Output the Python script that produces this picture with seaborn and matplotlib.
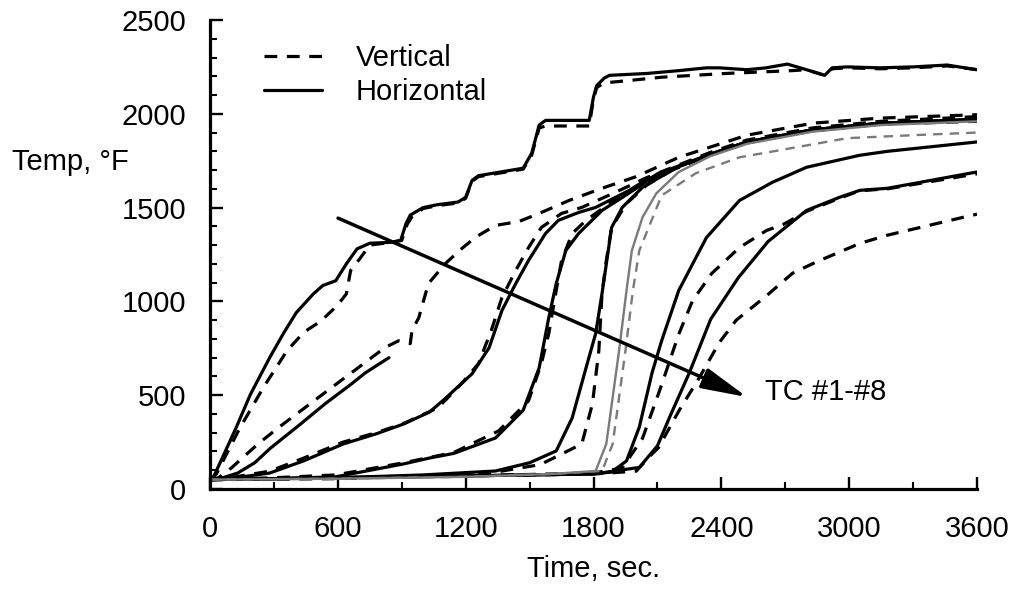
import matplotlib
matplotlib.use("Agg")
import matplotlib.pyplot as plt
from matplotlib.lines import Line2D
from matplotlib.ticker import MultipleLocator
import numpy as np
import pandas as pd
import seaborn as sns

# thermocouple traces, time (s) / temperature (F)
t1h = [0, 15, 120, 190, 280, 345, 405, 485, 530, 590, 640, 690, 750, 850, 895, 920, 940, 1000, 1065, 1165,
       1200, 1230, 1260, 1470, 1510, 1545, 1575, 1780, 1800, 1815, 1850, 1875, 2050, 2200, 2330, 2390, 2520,
       2610, 2710, 2800, 2885, 2920, 2990, 3145, 3300, 3460, 3570, 3600]
T1h = [50, 60, 320, 505, 700, 830, 940, 1040, 1085, 1110, 1200, 1280, 1310, 1315, 1325, 1415, 1460, 1500, 1515, 1530,
       1555, 1645, 1670, 1710, 1790, 1940, 1965, 1965, 2090, 2150, 2190, 2205, 2215, 2230, 2245, 2245, 2235,
       2245, 2265, 2235, 2205, 2245, 2250, 2245, 2250, 2260, 2240, 2235]
t1v = [0, 30, 140, 250, 360, 440, 520, 595, 640, 660, 685, 750, 850, 900, 925, 950, 1000, 1065, 1165, 1200,
       1230, 1260, 1470, 1510, 1545, 1575, 1780, 1800, 1815, 1850, 1900, 2120, 2420, 2730, 2800, 2885, 2920,
       2990, 3145, 3300, 3460, 3570, 3600]
T1v = [50, 80, 325, 540, 735, 835, 895, 975, 1040, 1165, 1200, 1300, 1315, 1325, 1410, 1455, 1495, 1510, 1525, 1550,
       1640, 1665, 1705, 1780, 1925, 1935, 1935, 2080, 2140, 2165, 2170, 2195, 2215, 2230, 2235, 2205, 2240,
       2245, 2240, 2245, 2255, 2240, 2235]

t2h = [0, 60, 130, 210, 285, 415, 540, 665, 730, 840]
T2h = [50, 60, 85, 140, 219, 337, 454, 561, 620, 700]
t2v = [0, 40, 100, 225, 320, 445, 570, 695, 820, 885, 940, 948, 980, 1025, 1105, 1180, 1245, 1340, 1450, 1545,
       1685, 1840, 2000, 2200, 2520, 2830, 3145, 3600]
T2v = [50, 60, 112, 240, 326, 433, 540, 646, 753, 790, 775, 845, 913, 1095, 1202, 1280, 1341, 1405, 1426, 1469,
       1538, 1603, 1665, 1768, 1886, 1950, 1977, 1995]

t3h = [0, 120, 280, 440, 625, 780, 910, 1030, 1100, 1230, 1310, 1370, 1435, 1495, 1575, 1635, 1730, 1810, 1965,
       2050, 2350, 2520, 2830, 3150, 3600]
T3h = [50, 60, 85, 150, 240, 294, 347, 410, 478, 614, 753, 951, 1095, 1218, 1362, 1432, 1474, 1501, 1590,
       1650, 1785, 1850, 1915, 1950, 1970]
t3v = [0, 120, 280, 440, 625, 780, 910, 1070, 1180, 1260, 1320, 1370, 1435, 1495, 1555, 1650, 1745, 1900, 2050,
       2350, 2520, 2830, 3150, 3600]
T3v = [50, 65, 95, 165, 250, 300, 350, 433, 561, 668, 844, 1020, 1165, 1287, 1394, 1469, 1501, 1580, 1660,
       1795, 1860, 1925, 1960, 1985]

t4h = [0, 300, 590, 910, 1030, 1145, 1340, 1470, 1545, 1590, 1625, 1670, 1730, 1840, 1965, 2100, 2350, 2520,
       2830, 3150, 3600]
T4h = [50, 55, 65, 134, 165, 190, 272, 420, 646, 913, 1095, 1271, 1362, 1485, 1576, 1680, 1785, 1850,
       1915, 1950, 1970]
t4v = [0, 300, 590, 910, 1145, 1355, 1495, 1555, 1590, 1625, 1650, 1700, 1765, 1875, 2100, 2350, 2520, 2830,
       3150, 3600]
T4v = [50, 60, 75, 140, 195, 310, 470, 668, 828, 1058, 1218, 1362, 1432, 1522, 1670, 1780, 1845, 1910,
       1945, 1965]

t5h = [0, 600, 1000, 1340, 1500, 1625, 1700, 1765, 1810, 1840, 1885, 1935, 2030, 2200, 2350, 2520, 2830, 3150, 3600]
T5h = [50, 60, 75, 96, 140, 203, 379, 646, 828, 1042, 1394, 1501, 1608, 1720, 1785, 1850, 1915, 1950, 1970]
t5v = [0, 600, 1000, 1340, 1550, 1745, 1795, 1825, 1840, 1860, 1885, 1955, 2050, 2200, 2350, 2520, 2830, 3150, 3600]
T5v = [50, 55, 70, 90, 130, 240, 454, 737, 1042, 1218, 1394, 1522, 1620, 1720, 1780, 1845, 1910, 1945, 1960]

t6h = [0, 600, 1200, 1600, 1810, 1860, 1920, 1955, 1980, 2030, 2095, 2200, 2350, 2520, 2830, 3150, 3600]
T6h = [50, 55, 65, 80, 96, 240, 737, 1058, 1271, 1448, 1576, 1690, 1775, 1840, 1905, 1940, 1960]
t6v = [0, 600, 1200, 1600, 1840, 1890, 1950, 1985, 2015, 2120, 2280, 2485, 2675, 2990, 3300, 3600]
T6v = [50, 55, 65, 80, 96, 240, 737, 1058, 1271, 1565, 1683, 1768, 1806, 1870, 1886, 1900]

t7h = [0, 600, 1200, 1790, 1885, 1955, 2015, 2075, 2120, 2200, 2330, 2485, 2640, 2800, 3050, 3180, 3600]
T7h = [50, 60, 70, 80, 90, 150, 330, 620, 791, 1058, 1340, 1538, 1635, 1715, 1779, 1800, 1850]
t7v = [0, 600, 1200, 1800, 1935, 2030, 2115, 2200, 2265, 2355, 2485, 2612, 2690, 2800, 2955, 3050, 3180, 3600]
T7v = [50, 60, 70, 85, 112, 270, 540, 825, 1004, 1149, 1287, 1378, 1410, 1480, 1550, 1590, 1600, 1680]

t8h = [0, 600, 1200, 1800, 2015, 2100, 2160, 2250, 2350, 2480, 2620, 2800, 2955, 3050, 3180, 3600]
T8h = [50, 60, 70, 80, 115, 230, 390, 620, 905, 1127, 1320, 1485, 1555, 1592, 1603, 1690]
t8v = [0, 600, 1200, 1800, 2000, 2075, 2105, 2200, 2300, 2390, 2470, 2612, 2734, 2845, 3050, 3176, 3534, 3600]
T8v = [50, 60, 70, 80, 95, 187, 220, 415, 600, 780, 900, 1030, 1150, 1210, 1309, 1352, 1448, 1465]

x_ticks = [0, 600, 1200, 1800, 2400, 3000, 3600]
y_ticks = [0, 500, 1000, 1500, 2000, 2500]

curves = {
    (1, "Horizontal"): (t1h, T1h), (1, "Vertical"): (t1v, T1v),
    (2, "Horizontal"): (t2h, T2h), (2, "Vertical"): (t2v, T2v),
    (3, "Horizontal"): (t3h, T3h), (3, "Vertical"): (t3v, T3v),
    (4, "Horizontal"): (t4h, T4h), (4, "Vertical"): (t4v, T4v),
    (5, "Horizontal"): (t5h, T5h), (5, "Vertical"): (t5v, T5v),
    (6, "Horizontal"): (t6h, T6h), (6, "Vertical"): (t6v, T6v),
    (7, "Horizontal"): (t7h, T7h), (7, "Vertical"): (t7v, T7v),
    (8, "Horizontal"): (t8h, T8h), (8, "Vertical"): (t8v, T8v),
}
rows = []
for (tc, orient), (tt, TT) in curves.items():
    for a, b in zip(tt, TT):
        rows.append({"tc": tc, "orient": orient, "time": a, "temp": b})
df = pd.DataFrame(rows)

sns.set_theme(style="ticks")
plt.rcParams["font.family"] = ["Liberation Sans", "DejaVu Sans"]
plt.rcParams["text.color"] = "black"
plt.rcParams["axes.labelcolor"] = "black"
FS = 21

fig = plt.figure(figsize=(10.17, 5.90), dpi=100)
ax = fig.add_axes([210 / 1017, 1 - 489 / 590, 767 / 1017, 469 / 590])

dash_map = {"Vertical": (4, 3), "Horizontal": ""}
black = df[df["tc"] != 6]
grey = df[df["tc"] == 6]
sns.lineplot(data=black, x="time", y="temp", units="tc", style="orient", dashes=dash_map,
             estimator=None, sort=False, color="black", lw=2.3, legend=False, ax=ax)
sns.lineplot(data=grey, x="time", y="temp", units="tc", style="orient", dashes=dash_map,
             estimator=None, sort=False, color="#7a7a7a", lw=1.7, legend=False, ax=ax)

ax.set_xlim(0, 3600)
ax.set_ylim(0, 2500)
ax.set_xticks(x_ticks)
ax.set_yticks(y_ticks)
ax.xaxis.set_minor_locator(MultipleLocator(300))
ax.yaxis.set_minor_locator(MultipleLocator(100))
ax.tick_params(which="major", direction="in", length=9, width=1.7, labelsize=FS,
               color="black", labelcolor="black")
ax.tick_params(which="minor", direction="in", length=5, width=1.5, color="black")
ax.tick_params(axis="y", which="major", pad=17)
ax.tick_params(axis="x", which="major", pad=19)
for s in ["top", "right"]:
    ax.spines[s].set_visible(False)
for s in ["left", "bottom"]:
    ax.spines[s].set_linewidth(2.3)
    ax.spines[s].set_color("black")

ax.set_xlabel("Time, sec.", fontsize=FS, color="black")
ax.xaxis.set_label_coords(0.5, -0.14)
ax.set_ylabel("")
fig.text(12 / 1017, 1 - 162 / 590, "Temp, \u00b0F", fontsize=FS, ha="left", va="center", color="black")

# arrow across the TC curves
ax.annotate("", xy=(2521, 490), xytext=(601, 1444),
            arrowprops=dict(arrowstyle="-|>,head_length=1.4,head_width=0.32", lw=2.5,
                            color="black", mutation_scale=20, shrinkA=0, shrinkB=0))
ax.text(2606, 517, "TC #1-#8", fontsize=FS, ha="left", va="center", color="black")

handles = [Line2D([], [], color="black", lw=2.3, dashes=(4, 3)),
           Line2D([], [], color="black", lw=2.3)]
ax.legend(handles, ["Vertical", "Horizontal"], loc="upper left", frameon=False, fontsize=FS,
          bbox_to_anchor=(264 / 1017, 1 - 44 / 590), bbox_transform=fig.transFigure,
          handlelength=2.0, handletextpad=1.15, labelspacing=0.2, borderpad=0, borderaxespad=0)

fig.savefig("out.png", dpi=100)
